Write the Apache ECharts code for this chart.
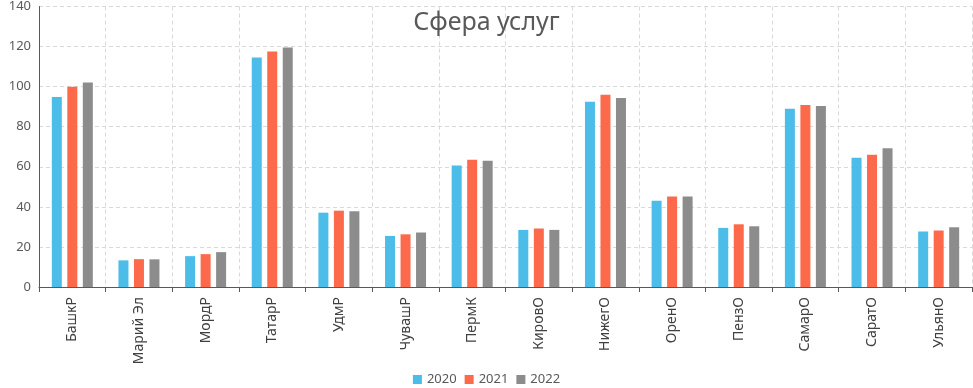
<!DOCTYPE html>
<html>
<head>
<meta charset="utf-8">
<script src="https://cdn.jsdelivr.net/npm/echarts@6/dist/echarts.min.js"></script>
<style>
    html, body { margin: 0; padding: 0; background: #ffffff; }
    #chart { width: 973px; height: 388px; }
</style>
</head>
<body>
<div id="chart"></div>
<script>
// регионы
const categories = ['БашкР', 'Марий Эл', 'МордР', 'ТатарР', 'УдмР', 'ЧувашР', 'ПермК',
    'КировО', 'НижегО', 'ОренО', 'ПензО', 'СамарО', 'СаратО', 'УльянО']
const seriesNames = ['2020', '2021', '2022']
const values2020 = [94.8, 13.3, 15.4, 114.5, 37.1, 25.5, 60.6, 28.5, 92.4, 43.1, 29.5, 89.0, 64.5, 27.7]
const values2021 = [99.9, 13.9, 16.4, 117.6, 38.1, 26.3, 63.5, 29.2, 95.9, 45.2, 31.3, 90.8, 66.0, 28.2]
const values2022 = [102.1, 13.8, 17.4, 119.5, 37.8, 27.2, 63.0, 28.5, 94.3, 45.2, 30.3, 90.3, 69.3, 29.8]
const yTicks = [0, 20, 40, 60, 80, 100, 120, 140]

const colors = ['#4bbde8', '#fd6a4b', '#8c8c8c']
const font = 'Noto Sans'

const chart = echarts.init(document.getElementById('chart'))

const dashed = {
    show: true,
    lineStyle: { color: '#d9d9d9', type: [4, 3], width: 1 }
}

const option = {
    backgroundColor: '#ffffff',
    animation: false,
    color: colors,
    textStyle: { fontFamily: font },
    title: {
        text: 'Сфера услуг',
        left: 'center',
        top: 5,
        textStyle: { fontSize: 25, fontWeight: 'normal', color: '#595959', fontFamily: font }
    },
    legend: {
        bottom: -3,
        left: 'center',
        itemWidth: 9,
        itemHeight: 9,
        itemGap: 8,
        icon: 'rect',
        textStyle: { fontSize: 13, color: '#595959' },
        data: seriesNames
    },
    grid: {
        left: 39,
        right: 1,
        top: 5,
        bottom: 101,
        containLabel: false
    },
    xAxis: [{
        type: 'category',
        data: categories,
        boundaryGap: true,
        axisLine: { lineStyle: { color: '#595959', width: 1 } },
        axisTick: { show: true, length: 5, interval: 0, lineStyle: { color: '#595959' } },
        splitLine: Object.assign({ interval: 0 }, dashed),
        axisLabel: {
            interval: 0,
            rotate: 90,
            margin: 10,
            fontSize: 14,
            color: '#404040'
        }
    }],
    yAxis: [{
        type: 'value',
        min: yTicks[0],
        max: yTicks[yTicks.length - 1],
        interval: 20,
        axisLine: { show: true, lineStyle: { color: '#595959', width: 1 } },
        axisTick: { show: false },
        splitLine: dashed,
        axisLabel: { fontSize: 13, color: '#595959', margin: 8 }
    }],
    series: [values2020, values2021, values2022].map((d, i) => ({
        name: seriesNames[i],
        type: 'bar',
        barWidth: 10,
        barGap: '55%',
        data: d
    }))
}

chart.setOption(option)
</script>
</body>
</html>
